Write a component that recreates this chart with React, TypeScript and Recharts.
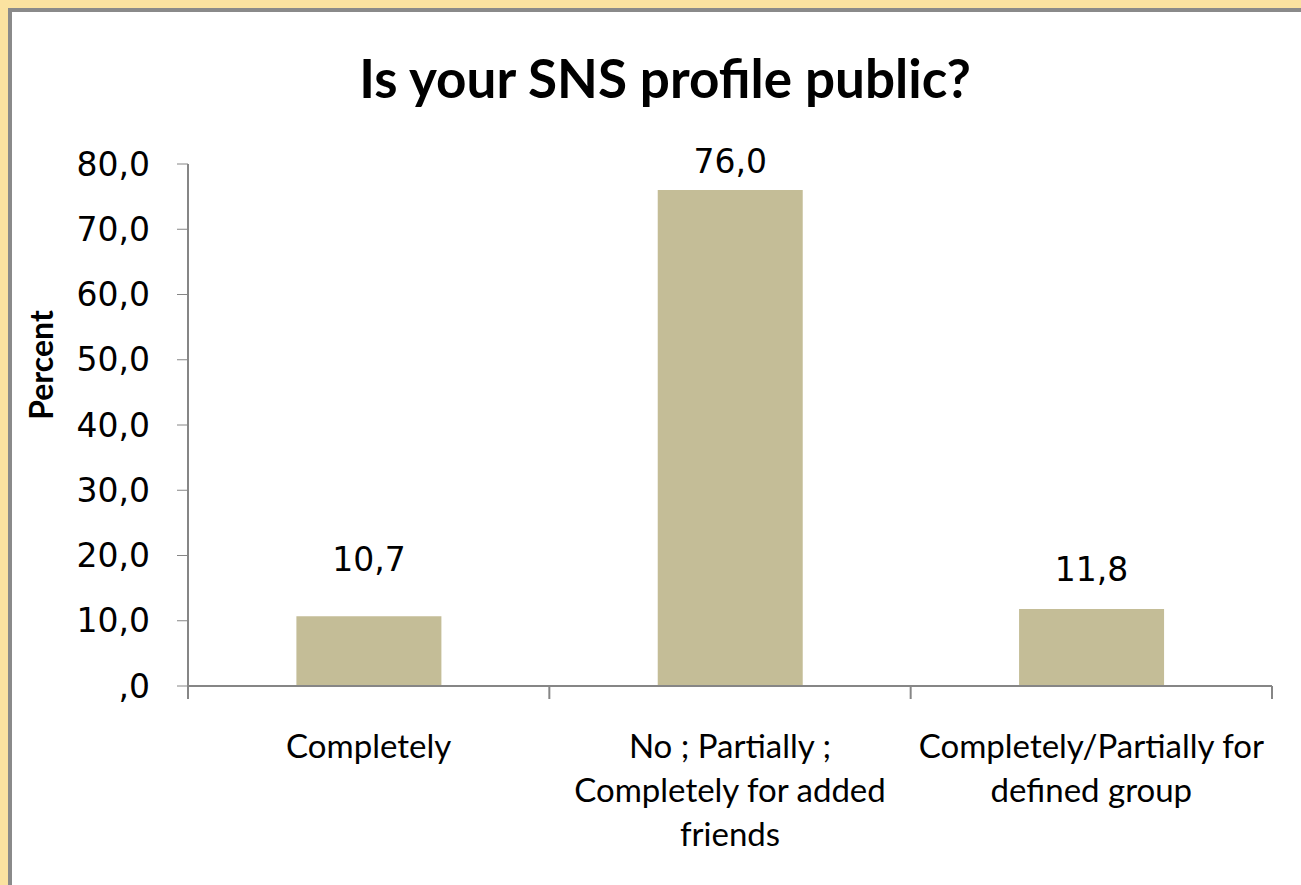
import { BarChart, Bar, XAxis, YAxis, LabelList, Label } from 'recharts'

const categories = [
  'Completely',
  'No ; Partially ;\nCompletely for added\nfriends',
  'Completely/Partially for\ndefined group',
]
const percents = [10.7, 76.0, 11.8]
const yTicks = [0, 10, 20, 30, 40, 50, 60, 70, 80]
const frameTicks = [0, 1, 2, 3]

// gap between bar top and the value label, as it sits in the original slide
const labelGaps = [57, 29, 40]

const data = categories.map((name, i) => ({ name, pos: i + 0.5, percent: percents[i] }))

const W = 1301
const H = 885
const AXIS = '#868686'
const BAR = '#C4BD97'
const SANS = 'Lato, "Open Sans", sans-serif'
const VERDANA = '"DejaVu Sans", Verdana, sans-serif'

const fmt = (v: number) => (v === 0 ? ',0' : v.toFixed(1).replace('.', ','))

function CategoryTick({ x, y, payload }: any) {
  const lines = String(payload.value).split('\n')
  return (
    <g transform={`translate(${x},${y})`}>
      {lines.map((l, i) => (
        <text key={i} x={0} y={31 + i * 44} textAnchor="middle" dominantBaseline="central"
          fontFamily={SANS} fontSize={33} fill="#000">
          {l}
        </text>
      ))}
    </g>
  )
}

function ValueLabel({ x, y, width, value, index }: any) {
  return (
    <text x={x + width / 2} y={y - labelGaps[index]} textAnchor="middle" dominantBaseline="central"
      fontFamily={VERDANA} fontSize={33} fill="#000">
      {fmt(value)}
    </text>
  )
}

export default function App() {
  return (
    <div style={{ position: 'fixed', left: 0, top: 0, width: W, height: H, background: '#FBE2A0', overflow: 'hidden' }}>
      <div style={{ position: 'absolute', left: 8, top: 8, width: W, height: H, background: '#fff',
        borderLeft: '4px solid #8a8a8a', borderTop: '4px solid #8a8a8a' }} />
      <div style={{ position: 'absolute', left: 0, top: 48, width: 1330, textAlign: 'center',
        fontFamily: SANS, fontWeight: 700, fontSize: 53, color: '#000', lineHeight: '60px' }}>
        Is your SNS profile public?
      </div>
      <div style={{ position: 'absolute', left: 0, top: 0 }}>
        <BarChart width={W} height={H} data={data} barCategoryGap="30%"
          margin={{ top: 164, right: 29, left: 0, bottom: 29 }}>
          <XAxis xAxisId="cat" dataKey="name" height={150} axisLine={false} tickLine={false}
            tick={<CategoryTick />} interval={0} />
          <XAxis xAxisId="aFrame" type="number" dataKey="pos" domain={[0, 3]} ticks={frameTicks}
            height={20} tickSize={13} tickFormatter={() => ''} stroke={AXIS}
            axisLine={{ stroke: AXIS, strokeWidth: 2 }} tickLine={{ stroke: AXIS, strokeWidth: 2 }} />
          <YAxis domain={[0, 80]} ticks={yTicks} width={188} tickSize={11} tickMargin={27}
            tickFormatter={fmt} stroke={AXIS} axisLine={{ stroke: AXIS, strokeWidth: 2 }}
            tick={{ fontFamily: VERDANA, fontSize: 33, fill: '#000' }}>
            <Label content={() => (
              <text transform="translate(40,365) rotate(-90)" textAnchor="middle" dominantBaseline="central"
                fontFamily={SANS} fontWeight={700} fontSize={32} fill="#000">Percent</text>
            )} />
          </YAxis>
          <Bar xAxisId="cat" dataKey="percent" fill={BAR} isAnimationActive={false}>
            <LabelList dataKey="percent" content={<ValueLabel />} />
          </Bar>
        </BarChart>
      </div>
    </div>
  )
}
